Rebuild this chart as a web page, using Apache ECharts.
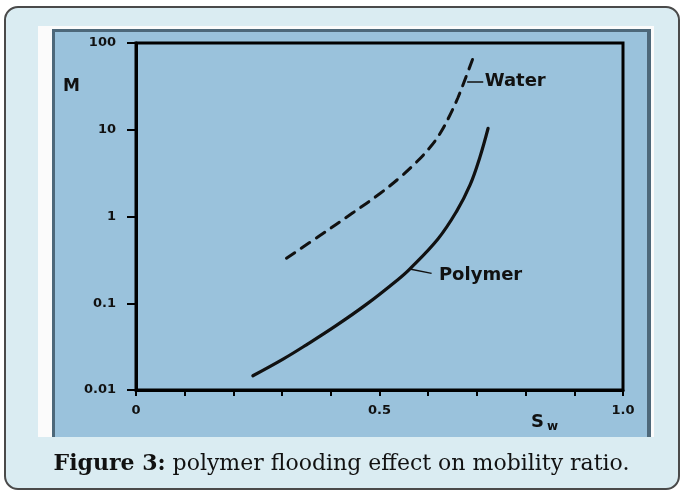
<!DOCTYPE html>
<html>
<head>
<meta charset="utf-8">
<script src="https://cdn.jsdelivr.net/npm/echarts@6/dist/echarts.min.js"></script>
<style>
html,body{margin:0;padding:0;width:683px;height:494px;overflow:hidden;background:#ffffff;}
#card{position:absolute;left:4px;top:6px;width:672px;height:480px;border:2px solid #4a4a4a;border-radius:14px;background:#daecf2;}
#white{position:absolute;left:38px;top:26px;width:616px;height:411px;background:#fbfbfb;}
#blue{position:absolute;left:52px;top:29px;width:599px;height:408px;background:#9ac2dc;border-left:3px solid #4d687a;border-top:3px solid #4d687a;border-right:4px solid #4d687a;box-sizing:border-box;}
#chart{position:absolute;left:0;top:0;width:683px;height:494px;}
</style>
</head>
<body>
<div id="card"></div>
<div id="white"></div>
<div id="blue"></div>
<div id="chart"></div>
<script>
// ---- data ----
const waterSw = [0.309, 0.377, 0.446, 0.501, 0.542, 0.576, 0.603, 0.624, 0.644, 0.661, 0.677, 0.696];
const waterM  = [0.33, 0.60, 1.11, 1.84, 2.82, 4.24, 6.2, 9.0, 14.5, 23.4, 39.8, 77];

const polymerSw = [0.240, 0.302, 0.350, 0.410, 0.473, 0.535, 0.562, 0.620, 0.658, 0.686, 0.706, 0.723];
const polymerM  = [0.0146, 0.0227, 0.0332, 0.0548, 0.097, 0.182, 0.248, 0.551, 1.14, 2.31, 4.8, 10.4];

const yTickLabels = ['0.01', '0.1', '1', '10', '100'];
const xLabelValues = [0, 0.5, 1.0];
const xLabelTexts = ['0', '0.5', '1.0'];

const waterLabelAt = [0.716, 36];
const waterLeader = [[0.680, 36], [0.713, 36]];
const polymerLabelAt = [0.622, 0.212];
const polymerLeader = [[0.562, 0.248], [0.607, 0.221]];

const seriesNames = ['Water', 'Polymer'];
const captionBold = 'Figure 3:';
const captionText = ' polymer flooding effect on mobility ratio.';
// ---------------------------------------

const zip = (a, b) => a.map((v, i) => [v, b[i]]);
const ink = '#111';
const annFont = {color: ink, fontFamily: 'DejaVu Sans', fontWeight: 'bold', fontSize: 18};

const chart = echarts.init(document.getElementById('chart'), null, {renderer: 'canvas'});
chart.setOption({
  animation: false,
  backgroundColor: 'transparent',
  title: {
    text: '{b|' + captionBold + '}' + captionText,
    left: 'center',
    top: 448,
    textStyle: {
      fontFamily: 'DejaVu Serif', fontSize: 22, fontWeight: 'normal', color: ink,
      rich: {b: {fontFamily: 'DejaVu Serif', fontSize: 22, fontWeight: 'bold', color: ink}}
    }
  },
  grid: {
    left: 136, right: 60, top: 43, bottom: 104,
    show: true, borderColor: '#000', borderWidth: 3, backgroundColor: 'transparent'
  },
  xAxis: {
    type: 'value', min: 0, max: 1, interval: 0.1,
    axisLine: {show: true, onZero: false, lineStyle: {color: '#000', width: 3}},
    axisTick: {show: true, length: 6, lineStyle: {color: '#000', width: 2}},
    splitLine: {show: false},
    axisLabel: {
      margin: 14, color: ink, fontFamily: 'DejaVu Sans', fontWeight: 'bold', fontSize: 13,
      formatter: function (v) {
        for (let i = 0; i < xLabelValues.length; i++) {
          if (Math.abs(v - xLabelValues[i]) < 1e-6) return xLabelTexts[i];
        }
        return '';
      }
    }
  },
  yAxis: {
    type: 'log', logBase: 10, min: 0.01, max: 100,
    axisLine: {show: true, lineStyle: {color: '#000', width: 3}},
    axisTick: {show: true, length: 9, lineStyle: {color: '#000', width: 2}},
    splitLine: {show: false},
    axisLabel: {
      margin: 20, color: ink, fontFamily: 'DejaVu Sans', fontWeight: 'bold', fontSize: 13,
      formatter: function (v, i) { return yTickLabels[i]; }
    }
  },
  graphic: [
    {type: 'text', left: 63, top: 78, style: {text: 'M', fill: ink, font: 'bold 17px "DejaVu Sans"'}},
    {type: 'text', left: 531, top: 413, style: {text: 'S', fill: ink, font: 'bold 18px "DejaVu Sans"'}},
    {type: 'text', left: 547, top: 421, style: {text: 'w', fill: ink, font: 'bold 12px "DejaVu Sans"'}}
  ],
  series: [
    {
      name: seriesNames[0], type: 'line', data: zip(waterSw, waterM),
      showSymbol: false, smooth: 0.4,
      lineStyle: {color: ink, width: 3, type: [10, 8], cap: 'round'},
      markLine: {
        silent: true, symbol: ['none', 'none'], label: {show: false},
        lineStyle: {color: ink, width: 1.5, type: 'solid'},
        data: [[{coord: waterLeader[0]}, {coord: waterLeader[1]}]]
      },
      markPoint: {
        silent: true, symbol: 'circle', symbolSize: 0,
        label: Object.assign({show: true, position: 'right', distance: 0, formatter: seriesNames[0]}, annFont),
        data: [{coord: waterLabelAt}]
      }
    },
    {
      name: seriesNames[1], type: 'line', data: zip(polymerSw, polymerM),
      showSymbol: false, smooth: 0.4,
      lineStyle: {color: ink, width: 3.2, cap: 'round'},
      markLine: {
        silent: true, symbol: ['none', 'none'], label: {show: false},
        lineStyle: {color: ink, width: 1.5, type: 'solid'},
        data: [[{coord: polymerLeader[0]}, {coord: polymerLeader[1]}]]
      },
      markPoint: {
        silent: true, symbol: 'circle', symbolSize: 0,
        label: Object.assign({show: true, position: 'right', distance: 0, formatter: seriesNames[1]}, annFont),
        data: [{coord: polymerLabelAt}]
      }
    }
  ]
});
</script>
</body>
</html>
